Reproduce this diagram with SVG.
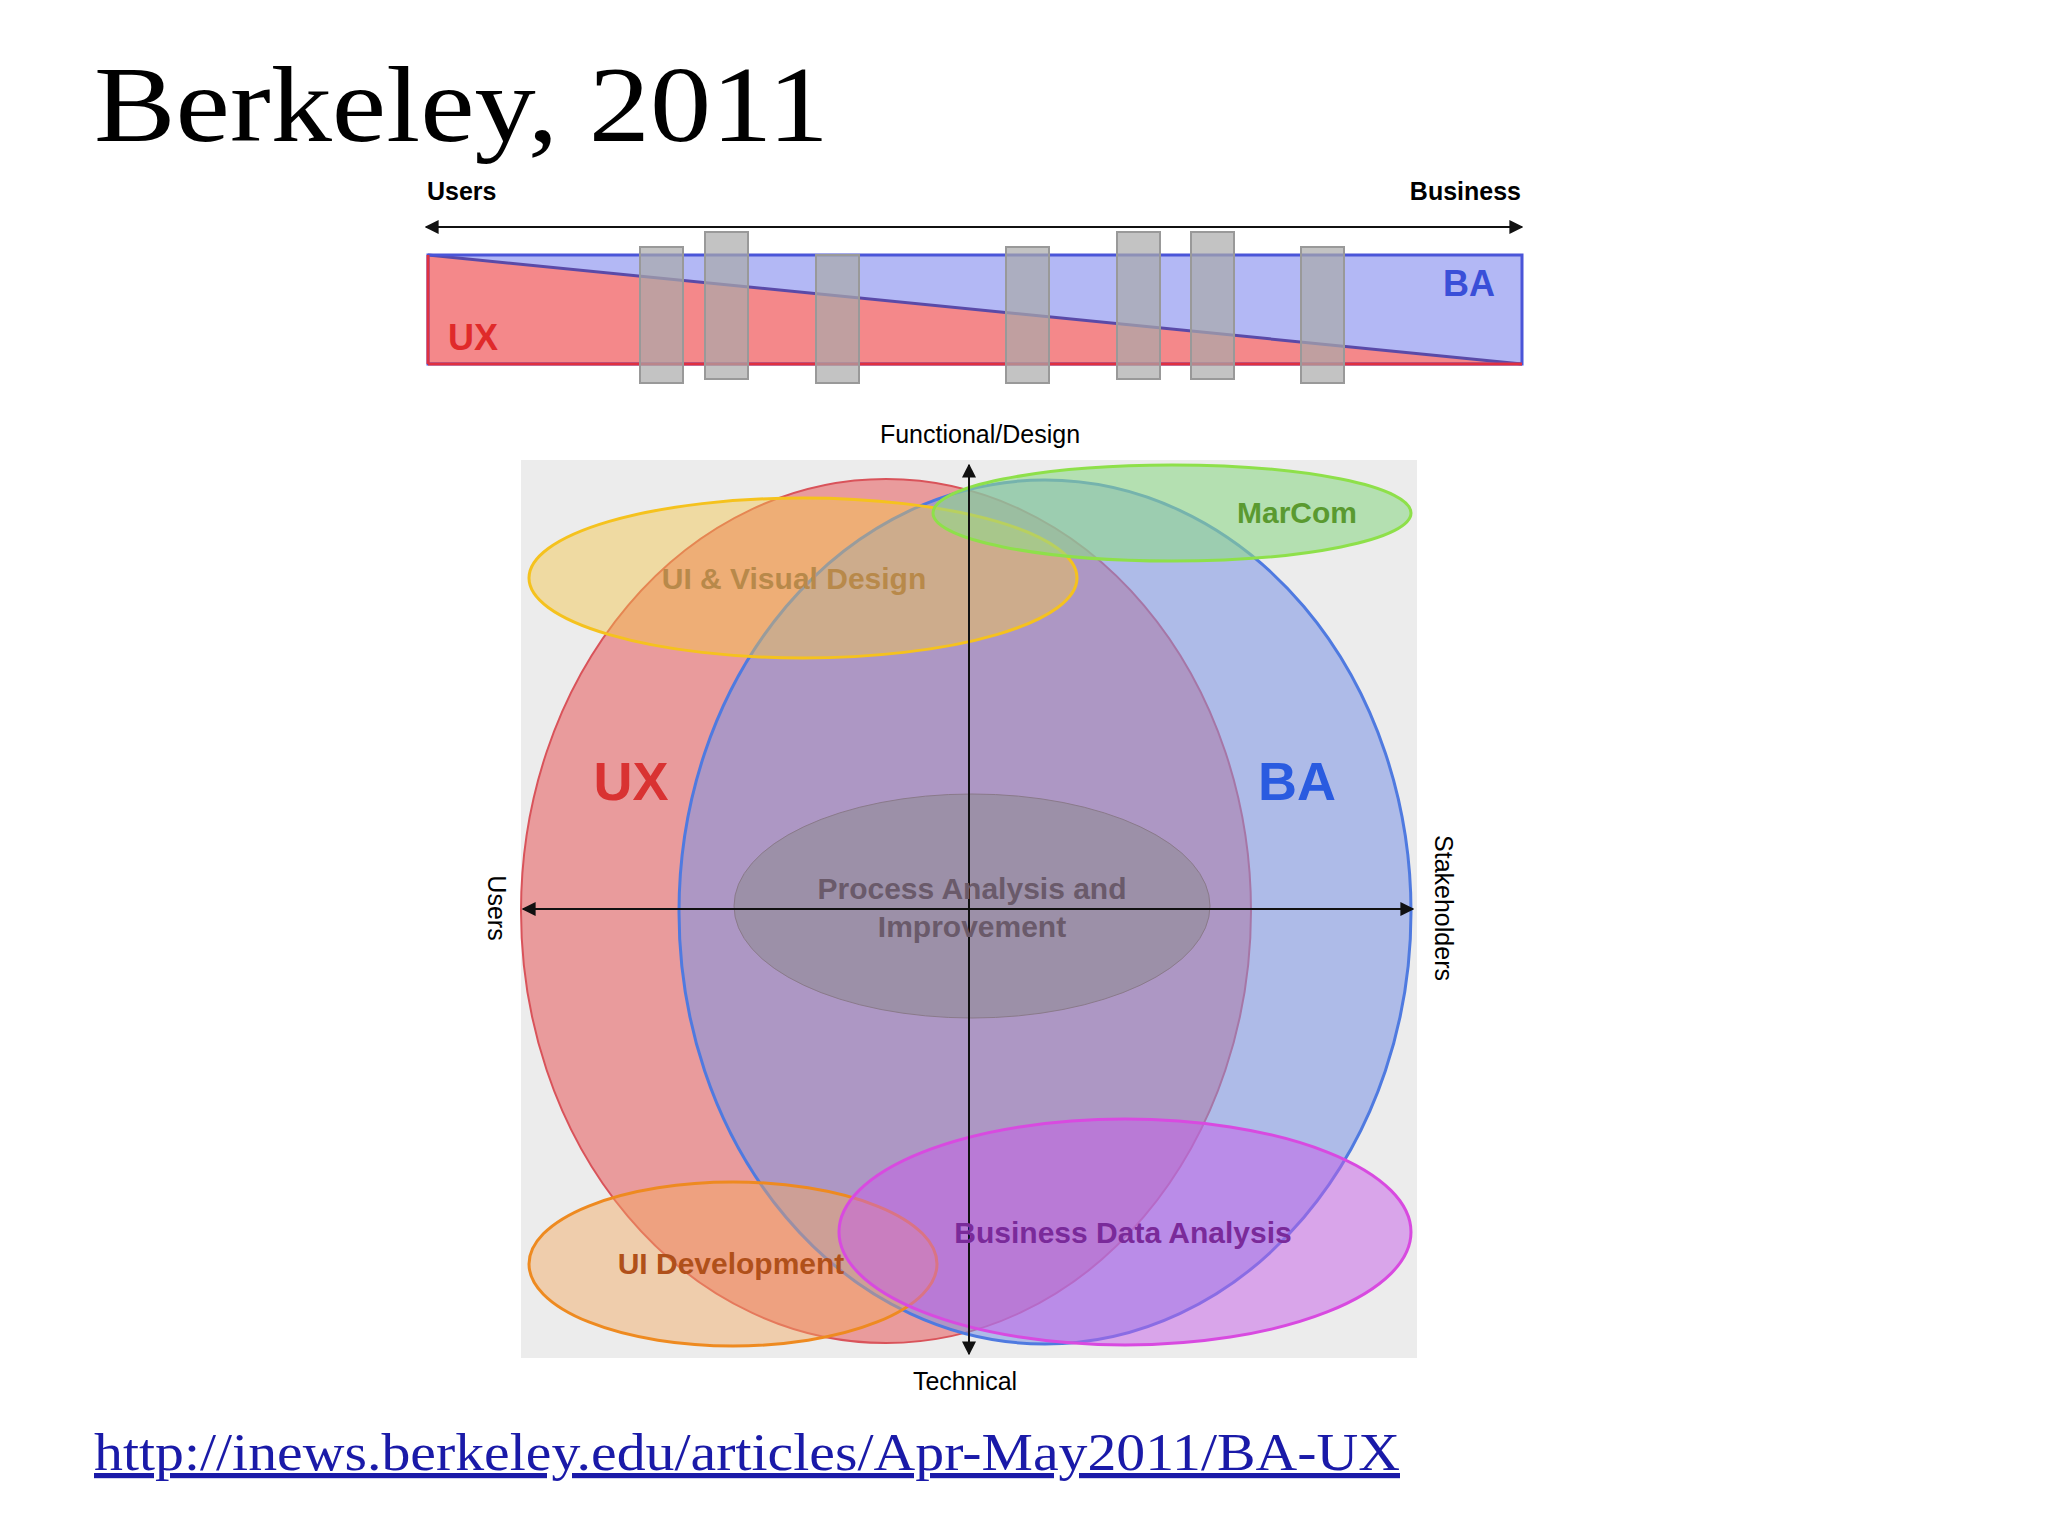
<svg xmlns="http://www.w3.org/2000/svg" width="2048" height="1536" viewBox="0 0 2048 1536">
<defs>
<marker id="ah" viewBox="0 0 10 10" refX="9" refY="5" markerWidth="7" markerHeight="7" orient="auto-start-reverse"><path d="M0,0L10,5L0,10z" fill="#111"/></marker>
<style>
.s{font-family:"Liberation Sans",Arial,sans-serif;font-weight:bold}
.n{font-family:"Liberation Sans",Arial,sans-serif}
.bar{fill:#aaaaaa;fill-opacity:0.7;stroke:#999;stroke-width:2}
.ax{stroke:#111;stroke-width:2;marker-start:url(#ah);marker-end:url(#ah)}
</style>
</defs>
<rect width="2048" height="1536" fill="#fff"/>
<text x="94" y="141" font-family="'Liberation Serif','DejaVu Serif',serif" font-size="108" textLength="735" lengthAdjust="spacingAndGlyphs">Berkeley, 2011</text>
<g id="topbar">
<text class="s" x="427" y="200" font-size="25">Users</text>
<text class="s" x="1521" y="200" font-size="25" text-anchor="end">Business</text>
<line class="ax" x1="426" y1="227" x2="1522" y2="227"/>
<polygon points="428,255 428,364 1522,364" fill="#f4888a"/>
<polygon points="428,255 1522,255 1522,364" fill="#b3b8f5"/>
<line x1="428" y1="255" x2="1522" y2="364" stroke="#5a4aa8" stroke-width="3"/>
<rect x="428" y="255" width="1094" height="109" fill="none" stroke="#4a55d8" stroke-width="3"/>
<line x1="428" y1="364" x2="1522" y2="364" stroke="#e03040" stroke-width="3"/>
<line x1="428" y1="255" x2="428" y2="364" stroke="#e03040" stroke-width="3"/>
<rect class="bar" x="640" y="247" width="43" height="136"/>
<rect class="bar" x="705" y="232" width="43" height="147"/>
<rect class="bar" x="816" y="255" width="43" height="128"/>
<rect class="bar" x="1006" y="247" width="43" height="136"/>
<rect class="bar" x="1117" y="232" width="43" height="147"/>
<rect class="bar" x="1191" y="232" width="43" height="147"/>
<rect class="bar" x="1301" y="247" width="43" height="136"/>
<text class="s" x="1443" y="296" font-size="36" fill="#3a4fd8">BA</text>
<text class="s" x="448" y="350" font-size="36" fill="#e02a2a">UX</text>
</g>
<rect x="521" y="460" width="896" height="898" fill="#ececec"/>
<g id="UX"><ellipse cx="886" cy="911" rx="365" ry="432" fill="#e8797a" fill-opacity="0.7" stroke="#d9535a" stroke-width="2"/></g>
<g id="BA"><ellipse cx="1045" cy="912" rx="366" ry="432" fill="#7b93e6" fill-opacity="0.55" stroke="#4f7ae0" stroke-width="3"/></g>
<g id="uivisual"><ellipse cx="803" cy="578" rx="274" ry="80" fill="#f5c54a" fill-opacity="0.45" stroke="#f5c21e" stroke-width="3"/></g>
<g id="marcom"><ellipse cx="1172" cy="513" rx="239" ry="48" fill="#8fd88a" fill-opacity="0.6" stroke="#8ee04a" stroke-width="3"/></g>
<g id="process"><ellipse cx="972" cy="906" rx="238" ry="112" fill="#888" fill-opacity="0.45" stroke="#8a7a8a" stroke-width="1"/></g>
<g id="uidev"><ellipse cx="733" cy="1264" rx="204" ry="82" fill="#f5a860" fill-opacity="0.45" stroke="#ee8a20" stroke-width="3"/></g>
<g id="bda"><ellipse cx="1125" cy="1232" rx="286" ry="113" fill="#c65ee8" fill-opacity="0.5" stroke="#d84ae0" stroke-width="3"/></g>
<g id="connectors">
<line class="ax" x1="969" y1="1354" x2="969" y2="465"/>
<line class="ax" x1="523" y1="909" x2="1413" y2="909"/>
</g>
<g id="labels">
<text class="n" x="980" y="443" font-size="25" text-anchor="middle">Functional/Design</text>
<text class="n" x="965" y="1390" font-size="25" text-anchor="middle">Technical</text>
<text class="n" font-size="25" text-anchor="middle" transform="translate(488,908) rotate(90)">Users</text>
<text class="n" font-size="25" text-anchor="middle" transform="translate(1435,908) rotate(90)">Stakeholders</text>
<text class="s" x="631" y="800" font-size="54" fill="#d93232" text-anchor="middle">UX</text>
<text class="s" x="1297" y="800" font-size="54" fill="#2a5be0" text-anchor="middle">BA</text>
<text class="s" x="794" y="589" font-size="30" fill="#b8894a" text-anchor="middle">UI &amp; Visual Design</text>
<text class="s" x="1297" y="523" font-size="30" fill="#5a9a30" text-anchor="middle">MarCom</text>
<text class="s" x="972" y="899" font-size="30" fill="#6a5a6a" text-anchor="middle">Process Analysis and</text>
<text class="s" x="972" y="937" font-size="30" fill="#6a5a6a" text-anchor="middle">Improvement</text>
<text class="s" x="731" y="1274" font-size="30" fill="#b0501a" text-anchor="middle">UI Development</text>
<text class="s" x="1123" y="1243" font-size="30" fill="#7a2a9a" text-anchor="middle">Business Data Analysis</text>
</g>
<text x="94" y="1470" font-family="'Liberation Serif',serif" font-size="52" fill="#1a1aa8" text-decoration="underline" textLength="1306" lengthAdjust="spacingAndGlyphs">http://inews.berkeley.edu/articles/Apr-May2011/BA-UX</text>
</svg>
